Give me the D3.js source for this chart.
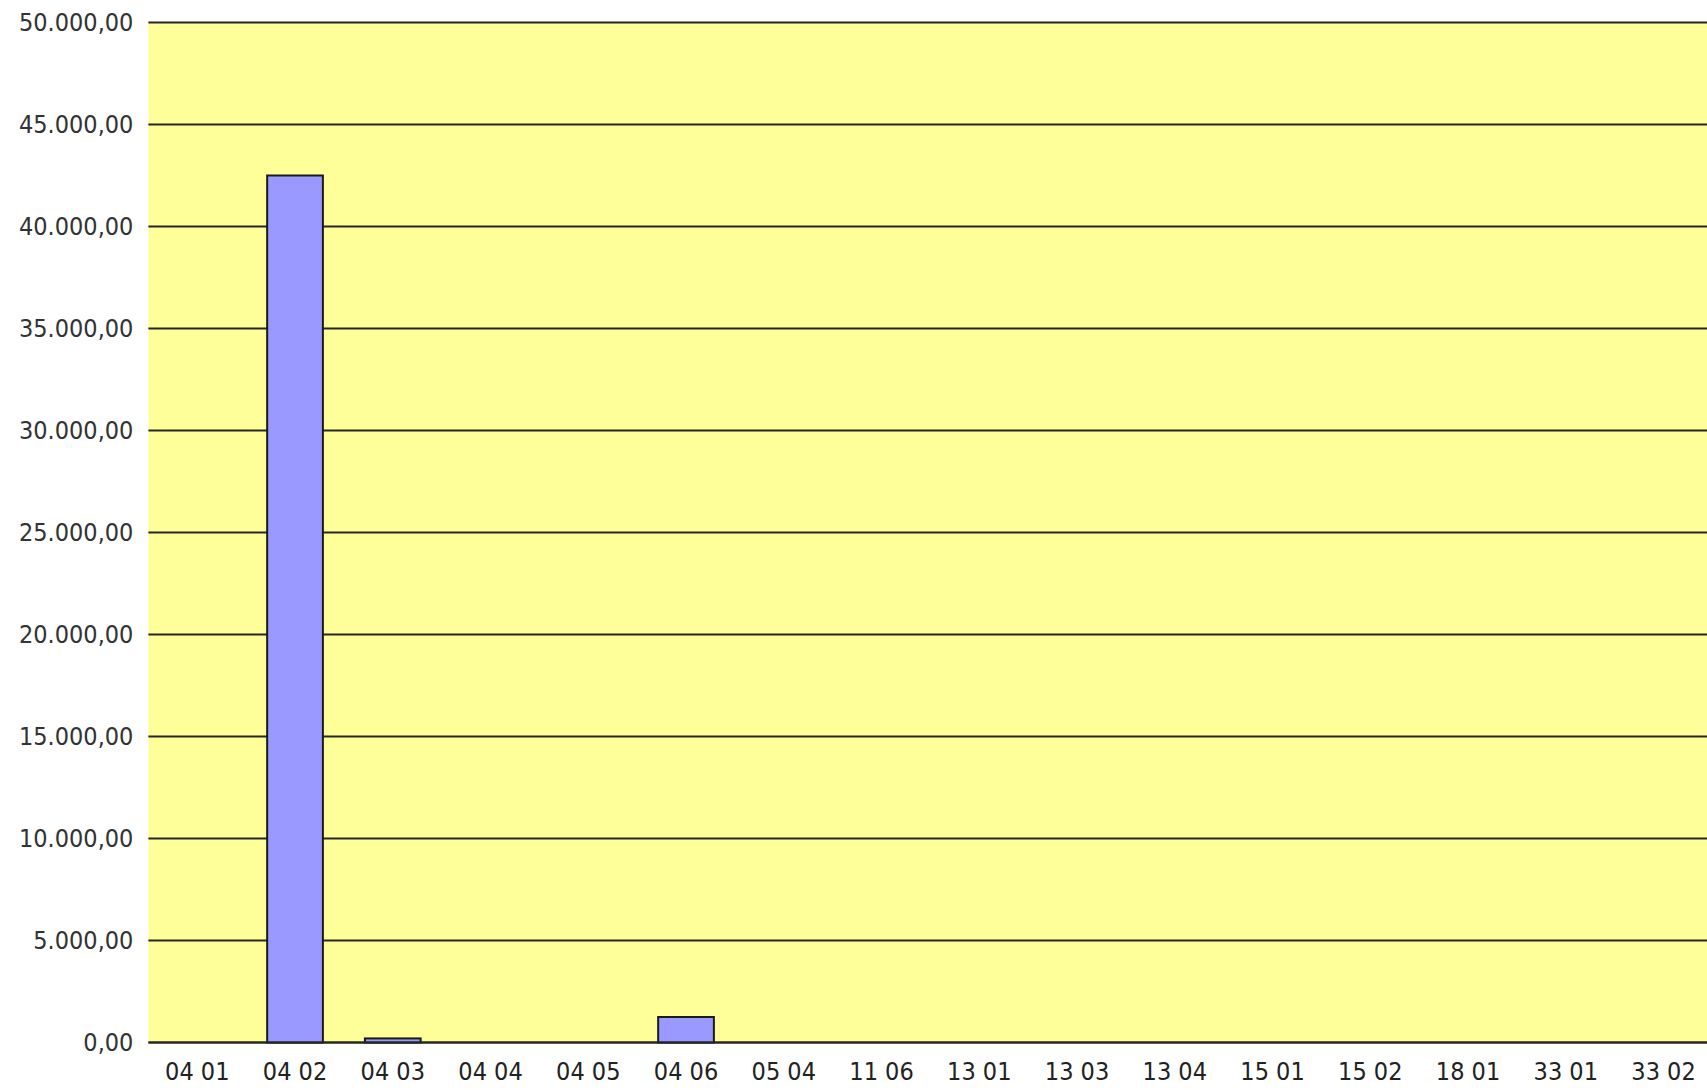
<!DOCTYPE html>
<html>
<head>
<meta charset="utf-8">
<script src="https://cdn.jsdelivr.net/npm/d3@7"></script>
<style>
html,body{margin:0;padding:0;background:#fff;overflow:hidden;}
svg{display:block;}
</style>
</head>
<body>
<svg id="chart" width="1707" height="1090"></svg>
<script>
const categories = ["04 01","04 02","04 03","04 04","04 05","04 06","05 04","11 06","13 01","13 03","13 04","15 01","15 02","18 01","33 01","33 02"];
const values = [0, 42500, 200, 0, 0, 1250, 0, 0, 0, 0, 0, 0, 0, 0, 0, 0];
const yTicks = [0,5000,10000,15000,20000,25000,30000,35000,40000,45000,50000];

const svg = d3.select("#chart");
const W = 1707, H = 1090;
const plot = {left:148.4, right:1712.4, top:22.5, bottom:1042.5};

const x = d3.scaleBand().domain(categories).range([plot.left, plot.right])
  .paddingInner(0.43).paddingOuter(0.215);
const y = d3.scaleLinear().domain([0,50000]).range([plot.bottom, plot.top]);

const loc = d3.formatLocale({decimal:",", thousands:".", grouping:[3], currency:["",""]});
const fmt = loc.format(",.2f");

const FONT = "'DejaVu Sans Condensed','DejaVu Sans',sans-serif";

// background
svg.append("rect").attr("x", plot.left).attr("y", plot.top)
  .attr("width", W - plot.left).attr("height", plot.bottom - plot.top)
  .attr("fill", "#ffff99");

// gridlines
svg.append("g").selectAll("line").data(yTicks).join("line")
  .attr("x1", plot.left).attr("x2", W)
  .attr("y1", d => y(d)).attr("y2", d => y(d))
  .attr("stroke", "#262626").attr("stroke-width", 2);

// y axis labels
const yAxis = d3.axisLeft(y).tickValues(yTicks).tickFormat(fmt).tickSize(0).tickPadding(15);
const gy = svg.append("g").attr("transform", `translate(${plot.left},0)`).call(yAxis);
gy.select(".domain").remove();
gy.selectAll("text").attr("font-family", FONT).attr("font-size", "25px").attr("fill", "#333");

// bars
svg.append("g").selectAll("rect").data(categories.map((c,i)=>({c, v:values[i]})).filter(d=>d.v>0)).join("rect")
  .attr("x", d => x(d.c)).attr("width", x.bandwidth())
  .attr("y", d => y(d.v)).attr("height", d => y(0) - y(d.v))
  .attr("fill", "#9999ff").attr("stroke", "#1a1a1a").attr("stroke-width", 2);

// x axis
const xAxis = d3.axisBottom(x).tickSize(0).tickPadding(20);
const gx = svg.append("g").attr("transform", `translate(0,${plot.bottom})`).call(xAxis);
gx.select(".domain").remove();
gx.selectAll("text").attr("font-family", FONT).attr("font-size", "25px").attr("fill", "#222");

// bottom axis line
svg.append("line").attr("x1", plot.left).attr("x2", W)
  .attr("y1", y(0)).attr("y2", y(0)).attr("stroke", "#262626").attr("stroke-width", 2);
</script>
</body>
</html>
